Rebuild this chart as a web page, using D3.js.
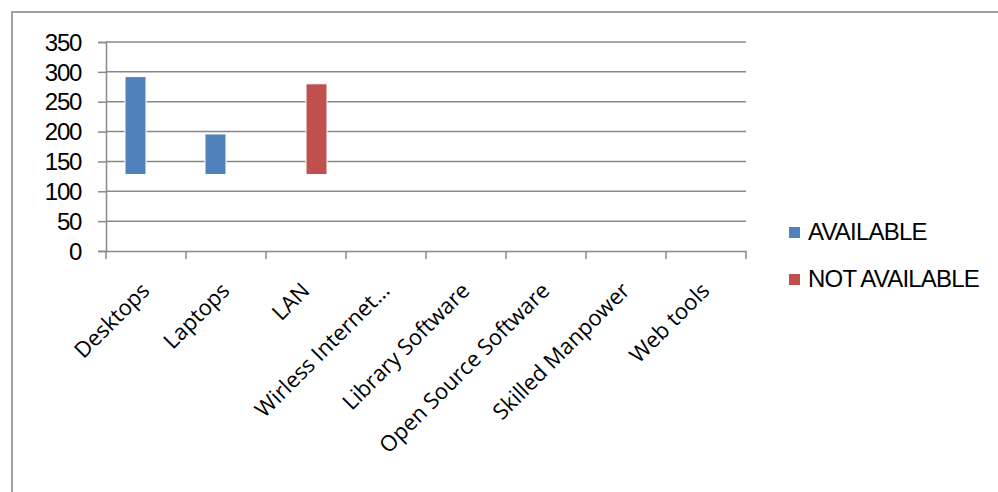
<!DOCTYPE html>
<html><head><meta charset="utf-8">
<script src="https://cdn.jsdelivr.net/npm/d3@7"></script>
<style>body{margin:0;background:#fff}svg{display:block}</style>
</head><body>
<script>
const categories = ["Desktops","Laptops","LAN","Wirless Internet…","Library Software","Open Source Software","Skilled Manpower","Web tools"];
const seriesNames = ["AVAILABLE","NOT AVAILABLE"];
const seriesColors = ["#4F81BD","#C0504D"];
const baseValue = 128;
const availableValues = [292,196,null,null,null,null,null,null];
const notAvailableValues = [null,null,280,null,null,null,null,null];
const yTicks = [0,50,100,150,200,250,300,350];

const W=998,H=492;
const svg=d3.select("body").append("svg").attr("width",W).attr("height",H);
// outer frame
svg.append("path").attr("d",`M12,${H} V12 H${W}`).attr("fill","none").attr("stroke","#a0a0a0").attr("stroke-width",2);

const x=d3.scaleBand().domain(categories).range([106,746]);
const y=d3.scaleLinear().domain([0,350]).range([251,42]);

const grid=svg.append("g");
grid.selectAll("line").data(yTicks.slice(1)).join("line")
  .attr("x1",106).attr("x2",746).attr("y1",d=>y(d)).attr("y2",d=>y(d))
  .attr("stroke","#888").attr("stroke-width",1.5);

const yAxis=svg.append("g").attr("transform","translate(106,0)")
  .call(d3.axisLeft(y).tickValues(yTicks).tickSize(8).tickPadding(17));
yAxis.select(".domain").attr("stroke","#888").attr("stroke-width",1.5);
yAxis.selectAll(".tick line").attr("stroke","#888").attr("stroke-width",1.5);
yAxis.selectAll("text").attr("font-family","'Liberation Sans', Arial, sans-serif").attr("font-size",24).attr("letter-spacing","-1.3px").attr("fill","#000").attr("dy","0.34em");

const xAxis=svg.append("g").attr("transform","translate(0,251)")
  .call(d3.axisBottom(x).tickSize(0).tickFormat(""));
xAxis.select(".domain").attr("stroke","#888").attr("stroke-width",1.5);
// category boundary ticks
svg.append("g").selectAll("line").data(categories.concat(["__end"])).join("line")
  .attr("x1",(d,i)=>106+i*x.step()).attr("x2",(d,i)=>106+i*x.step())
  .attr("y1",251).attr("y2",259).attr("stroke","#888").attr("stroke-width",1.5);

// labels
svg.append("g").selectAll("text").data(categories).join("text")
  .attr("transform",d=>`translate(${x(d)+x.bandwidth()/2+5},${292}) rotate(-45)`)
  .attr("text-anchor","end")
  .attr("font-family","'Open Sans', sans-serif").attr("font-size",22)
  .attr("fill","#000").text(d=>d);

const barW=21;
const series=[availableValues,notAvailableValues];
series.forEach((vals,si)=>{
  svg.append("g").selectAll("rect").data(categories.map((c,i)=>({c,v:vals[i]})).filter(d=>d.v!=null)).join("rect")
    .attr("x",d=>x(d.c)+x.bandwidth()/2+(si===0?-barW:0))
    .attr("width",barW)
    .attr("y",d=>y(d.v)).attr("height",d=>y(baseValue)-y(d.v))
    .attr("fill",seriesColors[si]).attr("stroke","#fff").attr("stroke-width",1);
});

// legend
const lg=svg.append("g");
seriesNames.forEach((n,i)=>{
  const yy=232+i*47;
  lg.append("rect").attr("x",789).attr("y",yy-5).attr("width",11).attr("height",11).attr("fill",seriesColors[i]);
  lg.append("text").attr("x",808).attr("y",yy+8).attr("font-family","'Liberation Sans', Arial, sans-serif")
    .attr("font-size",24).attr("letter-spacing","-0.8px").attr("fill","#000").text(n);
});
</script>
</body></html>
